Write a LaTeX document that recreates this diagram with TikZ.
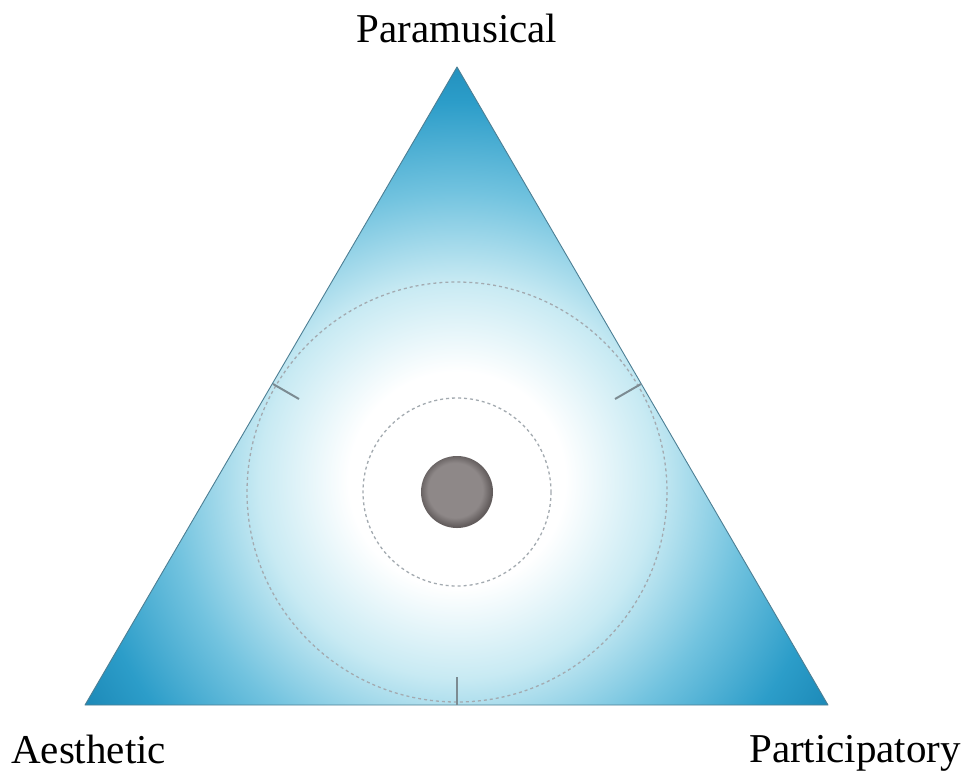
\documentclass[tikz,border=0pt]{standalone}
\usepackage{fontspec}
\setmainfont{Liberation Serif}
\definecolor{sA}{HTML}{FFFFFF}
\definecolor{sB}{HTML}{C8EAF3}
\definecolor{sC}{HTML}{72C3DF}
\definecolor{sD}{HTML}{2C9DC9}
\definecolor{sE}{HTML}{1884B3}
\definecolor{edgecol}{HTML}{4D7F94}
\definecolor{dashcol}{HTML}{A3AAB0}
\definecolor{tickcol}{HTML}{7C8B92}
\definecolor{ballin}{HTML}{8E8888}
\definecolor{ballout}{HTML}{625C5C}
\pgfdeclareradialshading{trishade}{\pgfpoint{0bp}{0bp}}{%
  color(0bp)=(sA); color(6bp)=(sA); color(11bp)=(sB); color(16bp)=(sC);
  color(21bp)=(sD); color(25bp)=(sE); color(50bp)=(sE)}
\pgfdeclareradialshading{ballshade}{\pgfpoint{-2bp}{2bp}}{%
  color(0bp)=(ballin); color(19bp)=(ballin); color(25bp)=(ballout); color(50bp)=(ballout)}
\tikzset{
  lbl/.style={font=\fontsize{41}{47}\selectfont, inner sep=0pt},
  ring/.style={draw=dashcol, line width=1.3pt, dash pattern=on 3pt off 3pt},
  tick/.style={draw=tickcol, line width=2pt},
}
\begin{document}
\begin{tikzpicture}[x=1pt,y=-1pt]
\useasboundingbox (0,0) rectangle (973,772);
\coordinate (T) at (457,67);
\coordinate (L) at (85,705);
\coordinate (R) at (828,705);
\coordinate (C) at (457,492);
\begin{scope}
  \clip (T) -- (L) -- (R) -- cycle;
  \shade[shading=trishade] (457,480) circle[radius=450];
\end{scope}
\draw[edgecol, line width=0.9pt, line join=round] (T) -- (L) -- (R) -- cycle;
\draw[ring] (C) circle[radius=210];
\draw[ring] (C) circle[radius=94];
\shade[shading=ballshade] (C) circle[radius=36];
\coordinate (tl1) at (273,384);
\coordinate (tl2) at (299,399);
\coordinate (tr1) at (641,384);
\coordinate (tr2) at (615,399);
\coordinate (tb1) at (457,705);
\coordinate (tb2) at (457,677);
\draw[tick] (tl1) -- (tl2);
\draw[tick] (tr1) -- (tr2);
\draw[tick] (tb1) -- (tb2);
\node[lbl, anchor=base] (top) at (457,42) {Paramusical};
\node[lbl, anchor=base west] (left) at (11,763) {Aesthetic};
\node[lbl, anchor=base west] (right) at (749,762) {Participatory};
\end{tikzpicture}
\end{document}
